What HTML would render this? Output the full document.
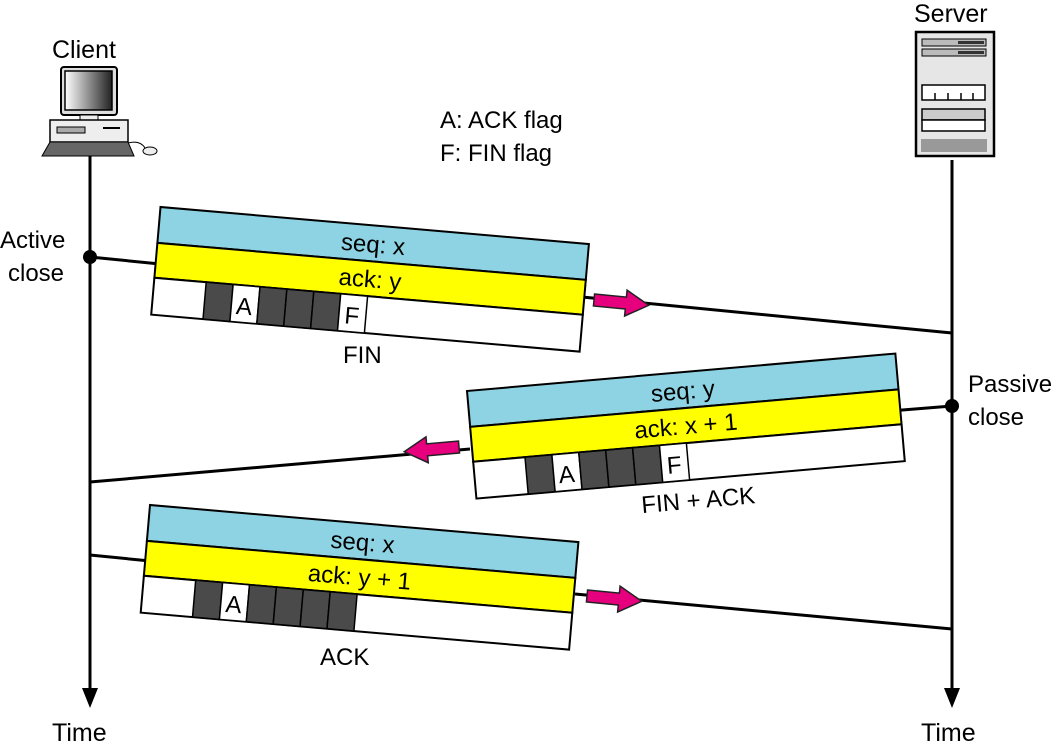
<!DOCTYPE html>
<html><head><meta charset="utf-8"><style>
html,body{margin:0;padding:0;background:#fff;}
svg{display:block;}
text{font-family:"Liberation Sans",sans-serif;fill:#000;}
</style></head><body>
<svg width="1055" height="748" viewBox="0 0 1055 748" xmlns="http://www.w3.org/2000/svg">
<defs>
<linearGradient id="scr" x1="0" x2="1" y1="0" y2="0"><stop offset="0" stop-color="#fff"/><stop offset="1" stop-color="#222"/></linearGradient>
<g id="pk">
  <rect x="0" y="0" width="430" height="36" fill="#8ed3e3" stroke="#000" stroke-width="2"/>
  <rect x="0" y="36" width="430" height="35" fill="#ffff00" stroke="#000" stroke-width="2"/>
  <rect x="0" y="71" width="430" height="37" fill="#fff" stroke="#000" stroke-width="2"/>
</g>
<g id="arr"><polygon points="0,-6 32,-6 32,-13 55,0 32,13 32,6 0,6" fill="#e6007e" stroke="#222" stroke-width="1.5"/></g>
</defs>

<line x1="90" y1="155" x2="90" y2="695" stroke="#000" stroke-width="3"/>
<polygon points="82,688 98,688 90,708" fill="#000"/>
<line x1="952" y1="160" x2="952" y2="695" stroke="#000" stroke-width="3"/>
<polygon points="944,688 960,688 952,708" fill="#000"/>
<text x="52" y="741" font-size="25">Time</text>
<text x="921" y="741" font-size="25">Time</text>

<text x="52" y="58" font-size="25">Client</text>
<rect x="61" y="67" width="56" height="48" rx="3" fill="#ddd" stroke="#000" stroke-width="2"/>
<rect x="65" y="71" width="47" height="39" fill="url(#scr)" stroke="#000" stroke-width="1.5"/>
<rect x="80" y="115" width="18" height="5" fill="#eee" stroke="#000"/>
<rect x="50" y="120" width="78" height="22" fill="#eee" stroke="#000" stroke-width="1.5"/>
<rect x="57" y="127" width="28" height="6" fill="#aaa" stroke="#000"/>
<line x1="103" y1="128" x2="120" y2="128" stroke="#000" stroke-width="2"/>
<polygon points="50,142 128,142 134,156 42,156" fill="#666" stroke="#000"/>
<path d="M128 143 Q140 140 145 148" fill="none" stroke="#000"/>
<ellipse cx="150" cy="151" rx="7" ry="4" fill="#eee" stroke="#000"/>

<text x="914" y="22" font-size="25">Server</text>
<rect x="916" y="32" width="78" height="124" fill="#e6e6e6" stroke="#000" stroke-width="2.5"/>
<rect x="922" y="39" width="64" height="7" fill="#bbb" stroke="#000"/>
<rect x="958" y="41" width="26" height="3" fill="#333"/>
<rect x="922" y="49" width="64" height="7" fill="#bbb" stroke="#000"/>
<rect x="958" y="51" width="26" height="3" fill="#333"/>
<rect x="922" y="85" width="63" height="15" fill="#fff" stroke="#000" stroke-width="1.5"/>
<path d="M935 100v-7M948 100v-7M961 100v-7M973 100v-7" stroke="#000" stroke-width="1.5"/>
<rect x="922" y="109" width="63" height="11" fill="#ccc" stroke="#000" stroke-width="1.5"/>
<rect x="922" y="120" width="63" height="11" fill="#fff" stroke="#000" stroke-width="1.5"/>
<rect x="921" y="139" width="66" height="13" fill="#999"/>

<text x="440" y="128" font-size="24">A: ACK flag</text>
<text x="440" y="161" font-size="24">F: FIN flag</text>

<text x="0" y="248" font-size="24">Active</text>
<text x="8" y="281" font-size="24">close</text>
<text x="968" y="392" font-size="24">Passive</text>
<text x="968" y="425" font-size="24">close</text>

<line x1="90" y1="257" x2="160" y2="264" stroke="#000" stroke-width="3"/>
<circle cx="90" cy="257" r="7" fill="#000"/>
<line x1="582" y1="297" x2="952" y2="333" stroke="#000" stroke-width="3"/>
<line x1="890" y1="411" x2="952" y2="406" stroke="#000" stroke-width="3"/>
<circle cx="952" cy="406" r="7" fill="#000"/>
<line x1="90" y1="482" x2="470" y2="449" stroke="#000" stroke-width="3"/>
<line x1="90" y1="555" x2="150" y2="561" stroke="#000" stroke-width="3"/>
<line x1="575" y1="594" x2="952" y2="629" stroke="#000" stroke-width="3"/>

<g transform="translate(160.5,207) rotate(4.94)">
  <use href="#pk"/>
  <rect x="52" y="71" width="27" height="37" fill="#4a4a4a" stroke="#000" stroke-width="1.5"/>
  <rect x="79" y="71" width="27" height="37" fill="#fff" stroke="#000" stroke-width="1.5"/>
  <rect x="106" y="71" width="27" height="37" fill="#4a4a4a" stroke="#000" stroke-width="1.5"/>
  <rect x="133" y="71" width="27" height="37" fill="#4a4a4a" stroke="#000" stroke-width="1.5"/>
  <rect x="160" y="71" width="27" height="37" fill="#4a4a4a" stroke="#000" stroke-width="1.5"/>
  <rect x="187" y="71" width="27" height="37" fill="#fff" stroke="#000" stroke-width="1.5"/>
  <text x="92" y="100" font-size="24" text-anchor="middle">A</text>
  <text x="200" y="100" font-size="24" text-anchor="middle">F</text>
  <text x="215" y="27" font-size="24" text-anchor="middle">seq: x</text>
  <text x="215" y="62" font-size="24" text-anchor="middle">ack: y</text>
</g>
<text x="343" y="363" font-size="24">FIN</text>
<g transform="translate(594,300) rotate(5.5)"><use href="#arr"/></g>

<g transform="translate(467,391) rotate(-5)">
  <use href="#pk"/>
  <rect x="52" y="71" width="27" height="37" fill="#4a4a4a" stroke="#000" stroke-width="1.5"/>
  <rect x="79" y="71" width="27" height="37" fill="#fff" stroke="#000" stroke-width="1.5"/>
  <rect x="106" y="71" width="27" height="37" fill="#4a4a4a" stroke="#000" stroke-width="1.5"/>
  <rect x="133" y="71" width="27" height="37" fill="#4a4a4a" stroke="#000" stroke-width="1.5"/>
  <rect x="160" y="71" width="27" height="37" fill="#4a4a4a" stroke="#000" stroke-width="1.5"/>
  <rect x="187" y="71" width="27" height="37" fill="#fff" stroke="#000" stroke-width="1.5"/>
  <text x="92" y="100" font-size="24" text-anchor="middle">A</text>
  <text x="200" y="100" font-size="24" text-anchor="middle">F</text>
  <text x="215" y="27" font-size="24" text-anchor="middle">seq: y</text>
  <text x="215" y="62" font-size="24" text-anchor="middle">ack: x + 1</text>
</g>
<text x="641" y="508" font-size="24" transform="rotate(-5 700 498)">FIN + ACK</text>
<g transform="translate(459,447) rotate(175)"><use href="#arr"/></g>

<g transform="translate(150,505) rotate(4.94)">
  <use href="#pk"/>
  <rect x="52" y="71" width="27" height="37" fill="#4a4a4a" stroke="#000" stroke-width="1.5"/>
  <rect x="79" y="71" width="27" height="37" fill="#fff" stroke="#000" stroke-width="1.5"/>
  <rect x="106" y="71" width="27" height="37" fill="#4a4a4a" stroke="#000" stroke-width="1.5"/>
  <rect x="133" y="71" width="27" height="37" fill="#4a4a4a" stroke="#000" stroke-width="1.5"/>
  <rect x="160" y="71" width="27" height="37" fill="#4a4a4a" stroke="#000" stroke-width="1.5"/>
  <rect x="187" y="71" width="27" height="37" fill="#4a4a4a" stroke="#000" stroke-width="1.5"/>
  <text x="92" y="100" font-size="24" text-anchor="middle">A</text>
  <text x="215" y="27" font-size="24" text-anchor="middle">seq: x</text>
  <text x="215" y="62" font-size="24" text-anchor="middle">ack: y + 1</text>
</g>
<text x="320" y="665" font-size="24">ACK</text>
<g transform="translate(587,596) rotate(5.5)"><use href="#arr"/></g>
</svg>
</body></html>
